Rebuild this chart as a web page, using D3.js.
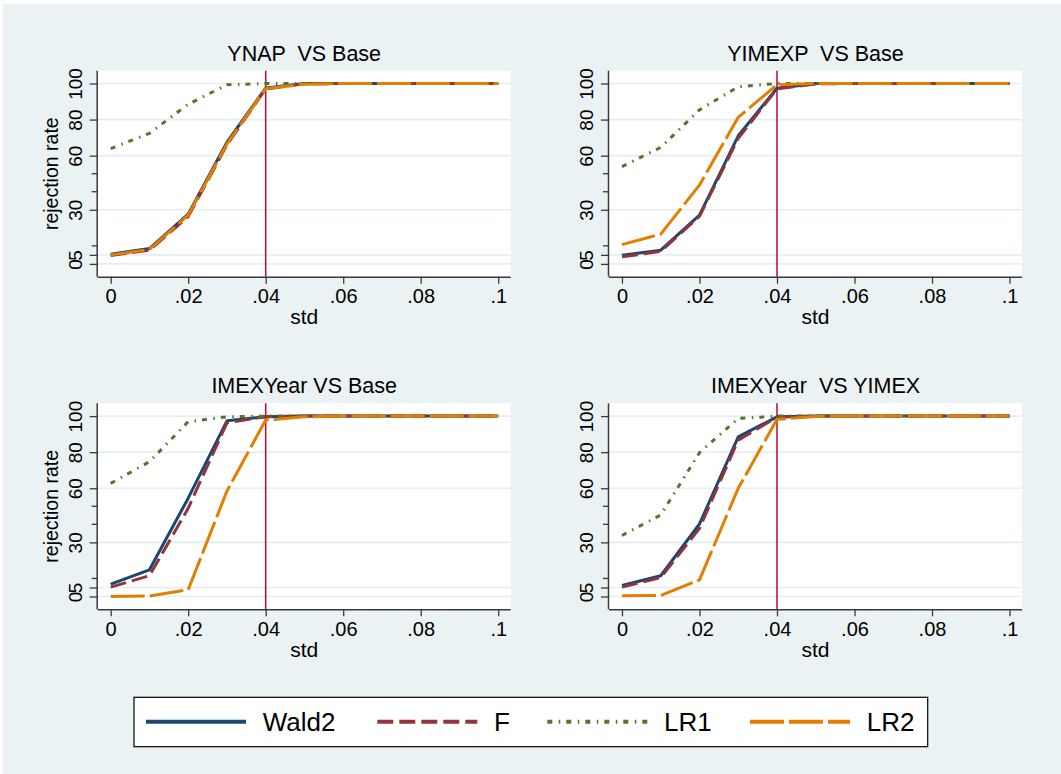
<!DOCTYPE html>
<html>
<head>
<meta charset="utf-8">
<script src="https://cdn.jsdelivr.net/npm/d3@7"></script>
<style>
  html, body { margin: 0; padding: 0; background: #ffffff; }
  svg { display: block; font-family: "Liberation Sans", Arial, sans-serif; }
</style>
</head>
<body>
<svg id="chart" width="1061" height="774"></svg>
<script>
// ---------------- DATA ----------------
const stdValues = [0, 0.01, 0.02, 0.03, 0.04, 0.05, 0.06, 0.07, 0.08, 0.09, 0.1];
const xTickValues = [0, 0.02, 0.04, 0.06, 0.08, 0.1];
const xTickLabels = ["0", ".02", ".04", ".06", ".08", ".1"];
const yMajorTicks = [0, 5, 30, 60, 80, 100];
const yMinorTicks = [10, 40, 50];
const refLineStd = 0.04;

const seriesNames = ["Wald2", "F", "LR1", "LR2"];
const panelTitles = ["YNAP  VS Base", "YIMEXP  VS Base", "IMEXYear VS Base", "IMEXYear  VS YIMEX"];

// Panel 1: YNAP VS Base
const ynapWald2 = [5.4, 8.5, 27.6, 67.5, 97.5, 100, 100, 100, 100, 100, 100];
const ynapF     = [4.6, 7.6, 26.2, 66.0, 97.0, 99.8, 100, 100, 100, 100, 100];
const ynapLR1   = [63.9, 72.4, 88.5, 99.3, 100, 100, 100, 100, 100, 100, 100];
const ynapLR2   = [5.0, 8.0, 27.0, 66.5, 97.2, 99.6, 100, 100, 100, 100, 100];

// Panel 2: YIMEXP VS Base
const yimexpWald2 = [4.8, 7.6, 27.0, 71.0, 97.4, 100, 100, 100, 100, 100, 100];
const yimexpF     = [3.9, 6.9, 26.4, 69.6, 97.0, 99.8, 100, 100, 100, 100, 100];
const yimexpLR1   = [53.9, 64.6, 85.4, 98.2, 100, 100, 100, 100, 100, 100, 100];
const yimexpLR2   = [10.7, 16.5, 43.7, 81.3, 99.3, 100, 100, 100, 100, 100, 100];

// Panel 3: IMEXYear VS Base
const imexBaseWald2 = [6.9, 14.8, 54.5, 97.4, 99.7, 100, 100, 100, 100, 100, 100];
const imexBaseF     = [5.2, 11.5, 48.9, 96.3, 99.7, 100, 100, 100, 100, 100, 100];
const imexBaseLR1   = [62.7, 74.7, 96.9, 99.6, 100, 100, 100, 100, 100, 100, 100];
const imexBaseLR2   = [0.0, 0.3, 3.7, 58.5, 97.8, 99.6, 100, 100, 100, 100, 100];

// Panel 4: IMEXYear VS YIMEX
const imexYimexWald2 = [6.1, 11.5, 40.2, 88.5, 99.6, 100, 100, 100, 100, 100, 100];
const imexYimexF     = [5.2, 10.5, 37.8, 86.7, 99.4, 100, 100, 100, 100, 100, 100];
const imexYimexLR1   = [33.8, 45.2, 79.7, 98.7, 100, 100, 100, 100, 100, 100, 100];
const imexYimexLR2   = [0.4, 0.6, 9.2, 60.0, 98.2, 99.8, 100, 100, 100, 100, 100];

// ---------------- STYLE / LAYOUT ----------------
const colors = { Wald2: "#1a476f", F: "#90353b", LR1: "#55752f", LR2: "#e37e00" };
const dashes = { Wald2: null, F: "16,6", LR1: "5,6.5,1.5,6", LR2: "34,5" };

const panels = [
  { title: panelTitles[0], left: 97.7, top: 70.7, yTitle: true,
    data: { Wald2: ynapWald2, F: ynapF, LR1: ynapLR1, LR2: ynapLR2 } },
  { title: panelTitles[1], left: 609, top: 70.7, yTitle: false,
    data: { Wald2: yimexpWald2, F: yimexpF, LR1: yimexpLR1, LR2: yimexpLR2 } },
  { title: panelTitles[2], left: 97.7, top: 403.3, yTitle: true,
    data: { Wald2: imexBaseWald2, F: imexBaseF, LR1: imexBaseLR1, LR2: imexBaseLR2 } },
  { title: panelTitles[3], left: 609, top: 403.3, yTitle: false,
    data: { Wald2: imexYimexWald2, F: imexYimexF, LR1: imexYimexLR1, LR2: imexYimexLR2 } }
];
const PW = 413, PH = 206;
const axisColor = "#3a3a3a";
const gridColor = "#e6edf0";
const bg = "#eaf2f3";

const svg = d3.select("#chart");
svg.append("rect").attr("x", 3).attr("y", 4).attr("width", 1058).attr("height", 770).attr("fill", bg);

panels.forEach(p => {
  const x = d3.scaleLinear().domain([-0.00335, 0.10322]).range([p.left, p.left + PW]);
  const y = d3.scaleLinear().domain([-7.1, 107.1]).range([p.top + PH, p.top]);
  const g = svg.append("g");

  // plot region
  g.append("rect").attr("x", p.left).attr("y", p.top).attr("width", PW).attr("height", PH).attr("fill", "#ffffff");

  // gridlines
  g.selectAll(".grid").data(yMajorTicks).enter().append("line")
    .attr("x1", p.left).attr("x2", p.left + PW)
    .attr("y1", d => y(d)).attr("y2", d => y(d))
    .attr("stroke", gridColor).attr("stroke-width", 1.6);

  // reference line
  g.append("line")
    .attr("x1", x(refLineStd)).attr("x2", x(refLineStd))
    .attr("y1", p.top).attr("y2", p.top + PH)
    .attr("stroke", "#c10534").attr("stroke-width", 1.5);

  // series
  const line = d3.line().x((d, i) => x(stdValues[i])).y(d => y(d));
  seriesNames.forEach(name => {
    g.append("path").datum(p.data[name])
      .attr("d", line)
      .attr("fill", "none")
      .attr("stroke", colors[name])
      .attr("stroke-width", 3)
      .attr("stroke-linejoin", "round")
      .attr("stroke-dasharray", dashes[name]);
  });

  // x axis
  const xAxis = d3.axisBottom(x).tickValues(xTickValues).tickSize(7).tickPadding(5)
    .tickFormat((d, i) => xTickLabels[i]);
  const xg = g.append("g").attr("transform", `translate(0,${p.top + PH})`).call(xAxis);
  xg.select(".domain").attr("d", `M${p.left},0.5H${p.left + PW}`).attr("stroke", axisColor).attr("stroke-width", 1.5);
  xg.selectAll(".tick line").attr("stroke", axisColor).attr("stroke-width", 1.3);
  xg.selectAll(".tick text").attr("font-size", 20).attr("fill", "#000")
    .attr("font-family", "Liberation Sans, Arial, sans-serif").attr("dy", null).attr("y", 26.5);

  // y axis
  const yAxis = d3.axisLeft(y).tickValues(yMajorTicks).tickSize(8).tickFormat(d3.format("d"));
  const yg = g.append("g").attr("transform", `translate(${p.left},0)`).call(yAxis);
  yg.select(".domain").attr("d", `M-0.5,${p.top}V${p.top + PH}`).attr("stroke", axisColor).attr("stroke-width", 1.5);
  yg.selectAll(".tick line").attr("stroke", axisColor).attr("stroke-width", 1.3);
  yg.selectAll(".tick text")
    .attr("font-size", 19).attr("fill", "#000")
    .attr("font-family", "Liberation Sans, Arial, sans-serif")
    .attr("x", null).attr("dy", null).attr("text-anchor", "middle")
    .attr("transform", "translate(-16,0) rotate(-90)");
  // minor ticks
  g.selectAll(".minor").data(yMinorTicks).enter().append("line")
    .attr("x1", p.left - 6).attr("x2", p.left)
    .attr("y1", d => y(d)).attr("y2", d => y(d))
    .attr("stroke", axisColor).attr("stroke-width", 1.3);

  // titles
  g.append("text").attr("x", p.left + PW / 2).attr("y", p.top - 10)
    .attr("text-anchor", "middle").attr("font-size", 21.5).attr("fill", "#000")
    .style("white-space", "pre").text(p.title);
  g.append("text").attr("x", p.left + PW / 2).attr("y", p.top + PH + 47.5)
    .attr("text-anchor", "middle").attr("font-size", 21).attr("fill", "#000").text("std");
  if (p.yTitle) {
    g.append("text")
      .attr("transform", `translate(${p.left - 40},${p.top + PH / 2}) rotate(-90)`)
      .attr("text-anchor", "middle").attr("font-size", 19.5).attr("fill", "#000").text("rejection rate");
  }
});

// legend
const lg = svg.append("g");
lg.append("rect").attr("x", 134).attr("y", 697.3).attr("width", 793.7).attr("height", 49.4)
  .attr("fill", "#ffffff").attr("stroke", "#000").attr("stroke-width", 1.2);
const keyStarts = [146, 377.3, 547.3, 750];
seriesNames.forEach((name, i) => {
  lg.append("line").attr("x1", keyStarts[i]).attr("x2", keyStarts[i] + 100)
    .attr("y1", 721.7).attr("y2", 721.7)
    .attr("stroke", colors[name]).attr("stroke-width", 4)
    .attr("stroke-dasharray", dashes[name]);
  lg.append("text").attr("x", keyStarts[i] + 116.7).attr("y", 730.7)
    .attr("font-size", 26).attr("fill", "#000").text(name);
});
</script>
</body>
</html>
